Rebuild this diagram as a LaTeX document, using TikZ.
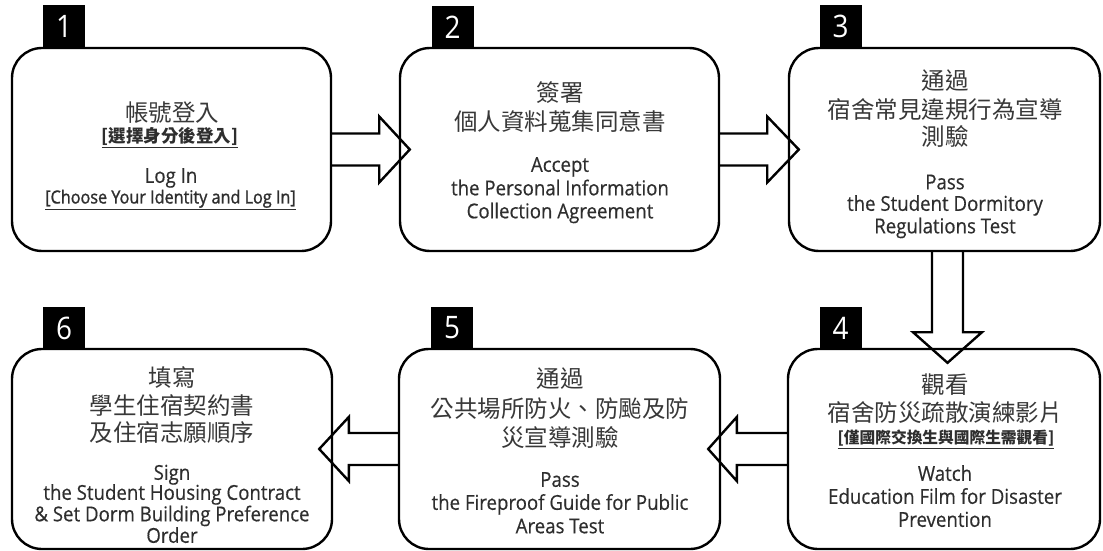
\documentclass[tikz,border=0pt]{standalone}
\usepackage{fontspec}
\setmainfont[FakeStretch=0.91,FakeBold=0.4]{Open Sans}
\newfontfamily\ensemi[FakeStretch=0.9,FakeBold=1.3]{Open Sans}
\newfontfamily\numfont[FakeStretch=0.9]{Open Sans}
\newfontfamily\zhfont{Noto Sans CJK TC}
\usetikzlibrary{calc}
\definecolor{txt}{gray}{0.18}
\definecolor{zhtxt}{gray}{0.22}
\tikzset{
  box/.style={draw=black, line width=2.4pt, rounded corners=30pt, inner sep=0pt},
  numbox/.style={fill=black, text=white, minimum width=42pt, minimum height=43pt, inner sep=0pt, font=\numfont\fontsize{31}{31}\selectfont},
  zh/.style={font=\zhfont\fontsize{23.5}{23.5}\selectfont, text=zhtxt, inner sep=0pt, text height=17.9pt, text depth=0pt},
  zhs/.style={font=\zhfont\bfseries\fontsize{17.5}{17.5}\selectfont, text=txt, inner sep=0pt, text height=13.3pt, text depth=0pt},
  zhxs/.style={font=\zhfont\bfseries\fontsize{15.7}{15.7}\selectfont, text=txt, inner sep=0pt, text height=11.9pt, text depth=0pt},
  en/.style={font=\fontsize{20.5}{20.5}\selectfont, text=txt, inner sep=0pt, text height=14.6pt, text depth=0pt},
  ens/.style={font=\ensemi\fontsize{18}{18}\selectfont, text=txt, inner sep=0pt, text height=12.9pt, text depth=0pt},
  blockarrow/.style={draw=black, line width=2.4pt, line join=miter}
}
\begin{document}
\begin{tikzpicture}[x=1pt,y=-1pt]
\useasboundingbox[fill=white] (0,0) rectangle (1103,551);
% boxes
\node[box, minimum width=319pt, minimum height=203pt] (b1) at (171.5,149.5) {};
\node[box, minimum width=319pt, minimum height=203pt] (b2) at (559.5,149.5) {};
\node[box, minimum width=311pt, minimum height=203pt] (b3) at (944.5,149.5) {};
\node[box, minimum width=312pt, minimum height=200pt] (b4) at (944,449) {};
\node[box, minimum width=321pt, minimum height=200pt] (b5) at (559.5,449) {};
\node[box, minimum width=320pt, minimum height=200pt] (b6) at (172,449) {};
% number labels
\node[numbox] (n1) at (64,26.5) {1};
\node[numbox] (n2) at (452.5,27.5) {2};
\node[numbox] (n3) at (840.5,26.5) {3};
\node[numbox] (n4) at (840.5,328) {4};
\node[numbox] (n5) at (452,328) {5};
\node[numbox] (n6) at (64,328) {6};
% arrows
\draw[blockarrow] ($(b1.east)+(0,-16)$) -- ++(47,0) -- ++(0,-17) -- ($(b2.west)+(11,0)$)
  -- ($(b1.east)+(47,33)$) -- ++(0,-17) -- ($(b1.east)+(0,16)$);
\draw[blockarrow] ($(b2.east)+(0,-16)$) -- ++(47,0) -- ++(0,-17) -- ($(b3.west)+(11,0)$)
  -- ($(b2.east)+(47,33)$) -- ++(0,-17) -- ($(b2.east)+(0,16)$);
\draw[blockarrow] ($(b3.south)+(-12.5,0)$) -- ++(0,80) -- ++(-19,0) -- ($(b4.north)+(3.5,15)$)
  -- ($(b3.south)+(37.5,80)$) -- ++(-19,0) -- ($(b3.south)+(18.5,0)$);
\draw[blockarrow] ($(b4.west)+(0,-16)$) -- ++(-50,0) -- ++(0,-16) -- ($(b5.east)+(-13,0)$)
  -- ($(b4.west)+(-50,32)$) -- ++(0,-16) -- ($(b4.west)+(0,16)$);
\draw[blockarrow] ($(b5.west)+(0,-16)$) -- ++(-49,0) -- ++(0,-16) -- ($(b6.east)+(-14,0)$)
  -- ($(b5.west)+(-49,32)$) -- ++(0,-16) -- ($(b5.west)+(0,16)$);
% box 1 text
\node[zh] (t1a) at (172,113) {帳號登入};
\node[zhs] (t1b) at (170,136) {\underline{[選擇身分後登入]}};
\node[en] (t1c) at (171,175.5) {Log In};
\node[ens] (t1d) at (170.5,197) {\underline{[Choose Your Identity and Log In]}};
% box 2 text
\node[zh] (t2a) at (560,93) {簽署};
\node[zh] (t2b) at (560,122) {個人資料蒐集同意書};
\node[en] (t2c) at (560,164.5) {Accept};
\node[en] (t2d) at (560,188) {the Personal Information};
\node[en] (t2e) at (560,211) {Collection Agreement};
% box 3 text
\node[zh] (t3a) at (945,81) {通過};
\node[zh] (t3b) at (945,109.5) {宿舍常見違規行為宣導};
\node[zh] (t3c) at (945,137) {測驗};
\node[en] (t3d) at (945,182) {Pass};
\node[en] (t3e) at (945,203.5) {the Student Dormitory};
\node[en] (t3f) at (945,226) {Regulations Test};
% box 4 text
\node[zh] (t4a) at (945,385) {觀看};
\node[zh] (t4b) at (945,413) {宿舍防災疏散演練影片};
\node[zhxs] (t4c) at (946,438) {\underline{[僅國際交換生與國際生需觀看]}};
\node[en] (t4d) at (945,473.5) {Watch};
\node[en] (t4e) at (945,496.5) {Education Film for Disaster};
\node[en] (t4f) at (945,519.5) {Prevention};
% box 5 text
\node[zh] (t5a) at (560,379) {通過};
\node[zh] (t5b) at (560,408.5) {公共場所防火、防颱及防};
\node[zh] (t5c) at (560,437.5) {災宣導測驗};
\node[en] (t5d) at (560,479.5) {Pass};
\node[en] (t5e) at (560,502.5) {the Fireproof Guide for Public};
\node[en] (t5f) at (560,526) {Areas Test};
% box 6 text
\node[zh] (t6a) at (172,378) {填寫};
\node[zh] (t6b) at (172,405.5) {學生住宿契約書};
\node[zh] (t6c) at (172,433) {及住宿志願順序};
\node[en] (t6d) at (172,472.5) {Sign};
\node[en] (t6e) at (172,492.5) {the Student Housing Contract};
\node[en] (t6f) at (172,514) {\& Set Dorm Building Preference};
\node[en] (t6g) at (172,535.5) {Order};
\end{tikzpicture}
\end{document}
